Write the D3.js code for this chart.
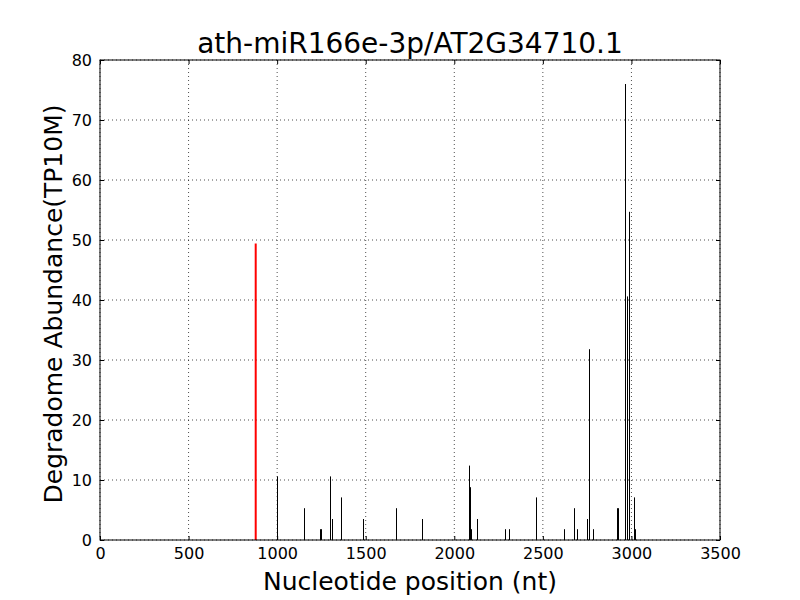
<!DOCTYPE html>
<html><head><meta charset="utf-8">
<script src="https://cdn.jsdelivr.net/npm/d3@7"></script>
<style>body{margin:0;background:#fff}text{font-family:"DejaVu Sans",sans-serif}</style>
</head><body><svg id="c" width="800" height="600"></svg>
<script>
const title = "ath-miR166e-3p/AT2G34710.1";
const xLabel = "Nucleotide position (nt)";
const yLabel = "Degradome Abundance(TP10M)";
const xTicks = [0,500,1000,1500,2000,2500,3000,3500];
const yTicks = [0,10,20,30,40,50,60,70,80];
const targetPos = [879];
const targetVal = [49.4];
const positions = [997,1153,1243,1248,1300,1310,1362,1486,1673,1819,2083,2088,2095,2128,2286,2310,2463,2621,2677,2690,2749,2762,2785,2920,2925,2964,2973,2986,2988,3014,3018];
const values    = [10.6,5.3,1.8,1.8,10.6,3.5,7.1,3.5,5.3,3.5,12.4,8.8,1.8,3.5,1.8,1.8,7.1,1.8,5.3,1.8,3.5,31.8,1.8,5.3,5.3,76.0,40.6,12.4,54.7,7.1,1.8];

const svg = d3.select("#c");
const L=100,R=720,T=60,B=540;
const x = d3.scaleLinear().domain([0,3500]).range([L,R]);
const y = d3.scaleLinear().domain([0,80]).range([B,T]);

// grid
const g = svg.append("g");
xTicks.forEach(t=>{ g.append("line").attr("x1",x(t)).attr("x2",x(t)).attr("y1",T).attr("y2",B)
  .attr("stroke","#000").attr("stroke-width",0.7).attr("stroke-dasharray","1,3"); });
yTicks.forEach(t=>{ g.append("line").attr("x1",L).attr("x2",R).attr("y1",y(t)).attr("y2",y(t))
  .attr("stroke","#000").attr("stroke-width",0.7).attr("stroke-dasharray","1,3"); });

// bars
svg.append("g").selectAll("line").data(positions.map((p,i)=>[p,values[i]])).join("line")
  .attr("x1",d=>Math.round(x(d[0]))+0.5).attr("x2",d=>Math.round(x(d[0]))+0.5)
  .attr("y1",y(0)).attr("y2",d=>y(d[1])).attr("stroke","#000").attr("stroke-width",1);
svg.append("g").selectAll("line").data(targetPos.map((p,i)=>[p,targetVal[i]])).join("line")
  .attr("x1",d=>x(d[0])).attr("x2",d=>x(d[0]))
  .attr("y1",y(0)).attr("y2",d=>y(d[1])).attr("stroke","#ff0000").attr("stroke-width",2);

// axes (inward ticks on all sides)
const fmt = d3.format("d");
const axB = svg.append("g").attr("transform",`translate(0,${B})`)
  .call(d3.axisBottom(x).tickValues(xTicks).tickFormat(fmt).tickSizeInner(-4).tickSizeOuter(0).tickPadding(8));
const axT = svg.append("g").attr("transform",`translate(0,${T})`)
  .call(d3.axisTop(x).tickValues(xTicks).tickSizeInner(-4).tickSizeOuter(0).tickFormat(""));
const axL = svg.append("g").attr("transform",`translate(${L},0)`)
  .call(d3.axisLeft(y).tickValues(yTicks).tickFormat(fmt).tickSizeInner(-4).tickSizeOuter(0).tickPadding(8));
const axR = svg.append("g").attr("transform",`translate(${R},0)`)
  .call(d3.axisRight(y).tickValues(yTicks).tickSizeInner(-4).tickSizeOuter(0).tickFormat(""));
[axB,axT,axL,axR].forEach(a=>{a.select(".domain").remove();
  a.selectAll("text").attr("font-family","DejaVu Sans").attr("font-size",16).attr("fill","#000");
  a.selectAll(".tick line").attr("stroke","#000");});
svg.append("rect").attr("x",L).attr("y",T).attr("width",R-L).attr("height",B-T)
  .attr("fill","none").attr("stroke","#000").attr("stroke-width",1);

svg.append("text").attr("x",(L+R)/2).attr("y",53).attr("text-anchor","middle")
  .attr("font-size",28).text(title);
svg.append("text").attr("x",(L+R)/2).attr("y",590).attr("text-anchor","middle")
  .attr("font-size",25).text(xLabel);
svg.append("text").attr("transform","translate(62,304) rotate(-90)").attr("text-anchor","middle")
  .attr("font-size",25).text(yLabel);
</script></body></html>
